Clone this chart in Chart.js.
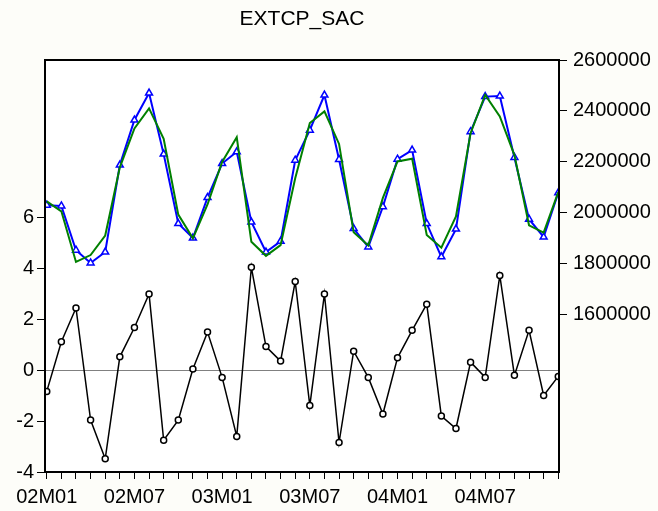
<!DOCTYPE html>
<html>
<head>
<meta charset="utf-8">
<script src="https://cdn.jsdelivr.net/npm/chart.js@4/dist/chart.umd.min.js"></script>
<style>
  html, body { margin: 0; padding: 0; background: #fdfdf9; }
  canvas { display: block; }
</style>
</head>
<body>
<canvas id="c" width="658" height="511"></canvas>
<script>
const categories = ["02M01","02M02","02M03","02M04","02M05","02M06","02M07","02M08","02M09","02M10","02M11","02M12",
  "03M01","03M02","03M03","03M04","03M05","03M06","03M07","03M08","03M09","03M10","03M11","03M12",
  "04M01","04M02","04M03","04M04","04M05","04M06","04M07","04M08","04M09","04M10","04M11","04M12"];
const residual = [-0.83, 1.12, 2.45, -1.96, -3.48, 0.53, 1.68, 3.0, -2.75, -1.96, 0.05, 1.5,
  -0.28, -2.6, 4.05, 0.93, 0.36, 3.49, -1.39, 3.0, -2.84, 0.75, -0.28, -1.72,
  0.49, 1.57, 2.6, -1.8, -2.29, 0.32, -0.28, 3.73, -0.2, 1.57, -0.99, -0.24];
const actual = [2029000, 2026000, 1852000, 1802000, 1845000, 2187000, 2364000, 2470000, 2230000, 1957000, 1900000, 2059000,
  2193000, 2239000, 1963000, 1845000, 1887000, 2206000, 2324000, 2462000, 2209000, 1937000, 1865000, 2023000,
  2210000, 2246000, 1957000, 1826000, 1935000, 2318000, 2456000, 2458000, 2217000, 1974000, 1904000, 2078000];
const fitted = [2044000, 2005000, 1806000, 1833000, 1910000, 2178000, 2331000, 2410000, 2290000, 1992000, 1899000, 2032000,
  2199000, 2296000, 1885000, 1830000, 1872000, 2135000, 2352000, 2398000, 2270000, 1923000, 1871000, 2058000,
  2201000, 2212000, 1912000, 1862000, 1985000, 2312000, 2463000, 2378000, 2226000, 1950000, 1921000, 2081000];
const leftTicks = [-4, -2, 0, 2, 4, 6];
const rightTicks = [1600000, 1800000, 2000000, 2200000, 2400000, 2600000];
const xTickLabels = ["02M01","02M07","03M01","03M07","04M01","04M07"];
const title = "EXTCP_SAC";

const toXY = arr => arr.map((v, i) => ({ x: i, y: v }));
const FONT = { family: "'Liberation Sans', Arial, sans-serif", size: 20 };

const framePlugin = {
  id: 'frame',
  beforeDraw(chart) {
    const { ctx, chartArea: a } = chart;
    ctx.save();
    ctx.fillStyle = '#ffffff';
    ctx.fillRect(a.left, a.top, a.right - a.left, a.bottom - a.top);
    ctx.restore();
  },
  beforeDatasetsDraw(chart) {
    const { ctx, chartArea: a, scales } = chart;
    const y0 = Math.round(scales.y.getPixelForValue(0)) + 0.5;
    ctx.save();
    ctx.strokeStyle = '#808080';
    ctx.lineWidth = 1;
    ctx.beginPath();
    ctx.moveTo(a.left, y0);
    ctx.lineTo(a.right, y0);
    ctx.stroke();
    ctx.restore();
  },
  afterDatasetsDraw(chart) {
    const { ctx, chartArea: a } = chart;
    ctx.save();
    ctx.strokeStyle = '#000000';
    ctx.lineWidth = 2;
    ctx.strokeRect(a.left, a.top, a.right - a.left, a.bottom - a.top);
    ctx.restore();
  }
};

new Chart(document.getElementById('c'), {
  type: 'line',
  data: {
    datasets: [
      {
        label: 'Fitted', data: toXY(fitted), yAxisID: 'y2', order: 0,
        borderColor: '#008000', borderWidth: 2, pointRadius: 0, tension: 0
      },
      {
        label: 'Actual', data: toXY(actual), yAxisID: 'y2', order: 1,
        borderColor: '#0000ff', borderWidth: 2, tension: 0,
        pointStyle: 'triangle', pointRadius: 4, pointBorderWidth: 1.5,
        pointBackgroundColor: '#ffffff', pointBorderColor: '#0000ff'
      },
      {
        label: 'Residual', data: toXY(residual), yAxisID: 'y', order: 2,
        borderColor: '#000000', borderWidth: 1.5, tension: 0,
        pointStyle: 'circle', pointRadius: 3, pointBorderWidth: 1.5,
        pointBackgroundColor: '#ffffff', pointBorderColor: '#000000'
      }
    ]
  },
  options: {
    responsive: false,
    animation: false,
    layout: { padding: 0 },
    plugins: {
      legend: { display: false },
      tooltip: { enabled: false },
      title: {
        display: true, text: title, fullSize: false, color: '#000',
        font: { family: FONT.family, size: 21, weight: 'normal', lineHeight: 1.2 },
        padding: { top: 7, bottom: 27.8 }
      }
    },
    scales: {
      x: {
        type: 'linear', min: -0.12, max: 35.05,
        afterBuildTicks: s => { s.ticks = categories.map((c, i) => ({ value: i })); },
        afterFit: s => { s.height = 39; },
        ticks: {
          autoSkip: false, maxRotation: 0, minRotation: 0, padding: 6,
          color: '#000', font: FONT,
          callback: v => { const l = categories[v]; return xTickLabels.includes(l) ? l : ''; }
        },
        grid: { drawOnChartArea: false, drawTicks: true, tickLength: 7, color: '#000', tickWidth: 1 },
        border: { display: true, color: '#000', width: 2 }
      },
      y: {
        position: 'left', min: -4, max: 12.2,
        afterBuildTicks: s => { s.ticks = leftTicks.map(v => ({ value: v })); },
        afterFit: s => { s.width = 45; },
        ticks: { padding: 3, color: '#000', font: FONT, callback: v => String(v) },
        grid: { drawOnChartArea: false, tickLength: 8, color: '#000' },
        border: { display: true, color: '#000', width: 2 }
      },
      y2: {
        position: 'right', min: 980000, max: 2600000,
        afterBuildTicks: s => { s.ticks = rightTicks.map(v => ({ value: v })); },
        afterFit: s => { s.width = 99; },
        ticks: { padding: 6, color: '#000', font: FONT, callback: v => String(v) },
        grid: { drawOnChartArea: false, tickLength: 8, color: '#000' },
        border: { display: true, color: '#000', width: 2 }
      }
    }
  },
  plugins: [framePlugin]
});
</script>
</body>
</html>
